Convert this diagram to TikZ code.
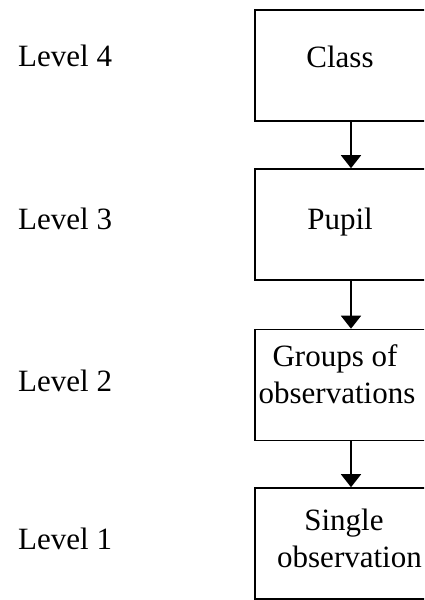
\documentclass[tikz,border=0pt]{standalone}
\usepackage{fontspec}
\setmainfont{Liberation Serif}
\usetikzlibrary{arrows.meta}
\begin{document}
\begin{tikzpicture}[x=1pt,y=-1pt,
  lvl/.style={anchor=base west,inner sep=0pt,font=\fontsize{31}{37}\selectfont},
  txt/.style={anchor=base,inner sep=0pt,font=\fontsize{31}{37}\selectfont},
  box/.style={draw,line width=1.6pt,rectangle,minimum width=192pt,minimum height=111pt,inner sep=0pt},
  link/.style={line width=1.6pt,-{Triangle[width=20pt,length=13pt]}}]
\useasboundingbox (0,0) rectangle (424,600);
\clip (0,0) rectangle (424,600);
% boxes
\node[box] (b1) at (351,65.5) {};
\node[box] (b2) at (351,224.5) {};
\node[box] (b3) at (351,385) {};
\node[box] (b4) at (351,543.5) {};
% box texts
\node[txt] (t1) at (340,67) {Class};
\node[txt] (t2) at (340,229) {Pupil};
\node[txt] (t3a) at (335,366) {Groups of};
\node[txt] (t3b) at (337,403) {observations};
\node[txt] (t4a) at (344,530) {Single};
\node[txt] (t4b) at (349.5,567) {observation};
% level labels
\node[lvl] (l4) at (18,66.7) {Level 4};
\node[lvl] (l3) at (18,229) {Level 3};
\node[lvl] (l2) at (18,391) {Level 2};
\node[lvl] (l1) at (18,549) {Level 1};
% arrows
\draw[link] (b1.south) -- (b2.north);
\draw[link] (b2.south) -- (b3.north);
\draw[link] (b3.south) -- (b4.north);
\end{tikzpicture}
\end{document}
